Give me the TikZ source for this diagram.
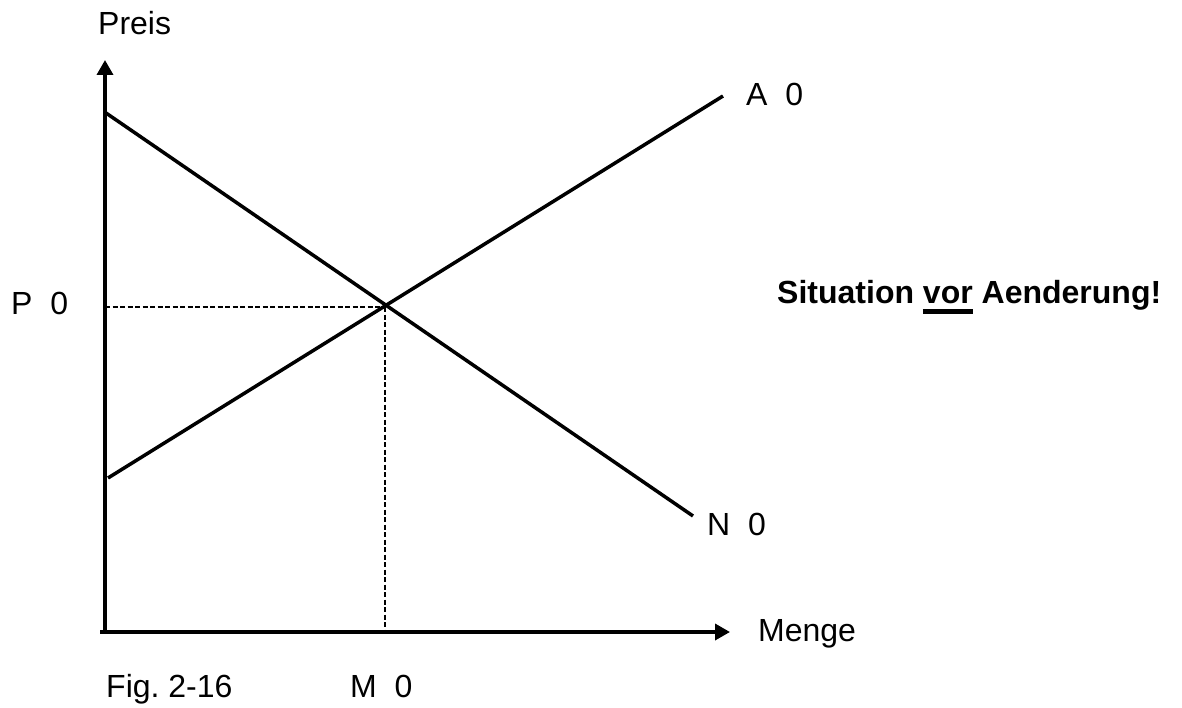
\documentclass[tikz,border=0pt]{standalone}
\usepackage{fontspec}
\setmainfont{Liberation Sans}
\usetikzlibrary{arrows.meta}
\frenchspacing
\newcommand\thickul[1]{\vtop{\hbox{#1}\kern6pt\hrule height 5pt}}
\tikzset{
  lbl/.style={inner sep=0pt, anchor=base west, font=\fontsize{32}{38}\selectfont},
  axis/.style={line width=3.5pt, -{Triangle[length=15pt,width=16pt]}},
  curve/.style={line width=3.5pt},
  guide/.style={line width=2pt, dash pattern=on 5pt off 2.5pt}
}
\begin{document}
\begin{tikzpicture}[x=1pt,y=-1pt]
\useasboundingbox (0,0) rectangle (1182,708);
% coordinates
\coordinate (Oy) at (105,633.5);
\coordinate (Ox) at (100,632);
\coordinate (Ytip) at (105,60);
\coordinate (Xtip) at (730,632);
\coordinate (Ns) at (106,113);
\coordinate (Ne) at (693,516);
\coordinate (As) at (108,478);
\coordinate (Ae) at (723,96);
\coordinate (E) at (384.5,307);
\coordinate (P) at (105,307);
\coordinate (M) at (384.5,632);
% axes
\draw[axis] (Oy) -- (Ytip);
\draw[axis] (Ox) -- (Xtip);
% curves
\draw[curve] (Ns) -- (Ne);
\draw[curve] (As) -- (Ae);
% guides
\draw[guide] (P) -- (E);
\draw[guide] (E) -- (M);
% labels
\node[lbl] (preis) at (98,35) {Preis};
\node[lbl] (a0) at (746,106) {A~~0};
\node[lbl] (p0) at (11,314) {P~~0};
\node[lbl, font=\fontsize{32}{38}\selectfont\bfseries] (sit) at (777,303) {Situation \thickul{vor} Aenderung!};
\node[lbl] (n0) at (707,535) {N~~0};
\node[lbl] (menge) at (758,641) {Menge};
\node[lbl] (fig) at (106,697) {Fig. 2-16};
\node[lbl] (m0) at (350,697) {M~~0};
\end{tikzpicture}
\end{document}
